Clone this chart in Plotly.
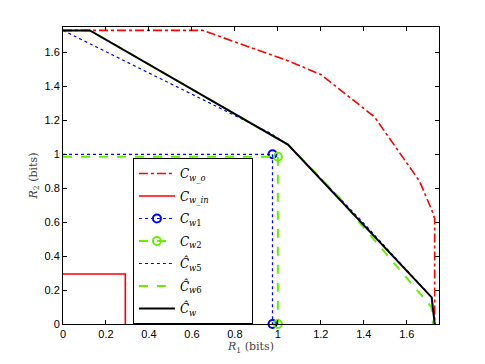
import plotly.graph_objects as go

# region boundaries, R1 / R2 in bits
CWO_R1 = [0.0, 0.65, 1.05, 1.2, 1.45, 1.56, 1.66, 1.72, 1.73, 1.73]
CWO_R2 = [1.73, 1.73, 1.55, 1.47, 1.22, 1.02, 0.84, 0.66, 0.62, 0.0]

CWIN_R1 = [0.0, 0.29, 0.29]
CWIN_R2 = [0.295, 0.295, 0.0]

CW1_R1 = [0.0, 0.975, 0.975]
CW1_R2 = [1.0, 1.0, 0.0]

CW2_R1 = [0.0, 1.0, 1.0]
CW2_R2 = [0.985, 0.985, 0.0]

CW5_R1 = [0.0, 0.963, 1.047, 1.38, 1.716, 1.73]
CW5_R2 = [1.73, 1.126, 1.057, 0.62, 0.157, 0.0]

CW6_R1 = [0.0, 0.125, 1.047, 1.094, 1.288, 1.381, 1.715, 1.722]
CW6_R2 = [1.73, 1.73, 1.057, 0.997, 0.744, 0.596, 0.10, 0.0]

CW_R1 = [0.0, 0.125, 1.047, 1.716, 1.73]
CW_R2 = [1.73, 1.73, 1.057, 0.157, 0.0]

RED = "#ff0000"
BLUE = "#0000ff"
GREEN = "#66f000"

PAD = "&nbsp;" * 10
LABELS = [
    "<i>C</i><sub><i>w</i>_<i>o</i></sub>" + PAD,
    "<i>C</i><sub><i>w</i>_<i>in</i></sub>" + PAD,
    "<i>C</i><sub><i>w</i>1</sub>" + PAD,
    "<i>C</i><sub><i>w</i>2</sub>" + PAD,
    "<i>Ĉ</i><sub><i>w</i>5</sub>" + PAD,
    "<i>Ĉ</i><sub><i>w</i>6</sub>" + PAD,
    "<i>Ĉ</i><sub><i>w</i></sub>" + PAD,
]

fig = go.Figure()


def line(x, y, name, color, dash, group, width=1.6, show=True, markers=False):
    fig.add_trace(go.Scatter(
        x=x, y=y, name=name, legendgroup=group, showlegend=show,
        mode="lines+markers" if markers else "lines",
        line=dict(color=color, dash=dash, width=width),
        marker=dict(symbol="circle-open", size=8, color=color,
                    line=dict(width=2, color=color)),
        hoverinfo="skip", cliponaxis=False,
    ))


line(CWO_R1, CWO_R2, LABELS[0], RED, "dashdot", "g0")
line(CWIN_R1, CWIN_R2, LABELS[1], RED, "solid", "g1")
# C_w1 / C_w2: horizontal part w/o markers, corner + foot with circles
line(CW1_R1[:2], CW1_R2[:2], LABELS[2], BLUE, "dot", "g2", width=1.2, show=False)
line(CW1_R1[1:], CW1_R2[1:], LABELS[2], BLUE, "dot", "g2", width=1.2, markers=True)
line(CW2_R1[:2], CW2_R2[:2], LABELS[3], GREEN, "dash", "g3", width=2, show=False)
line(CW2_R1[1:], CW2_R2[1:], LABELS[3], GREEN, "dash", "g3", width=2, markers=True)
line(CW5_R1, CW5_R2, LABELS[4], BLUE, "dot", "g4", width=1.2)
line(CW6_R1, CW6_R2, LABELS[5], GREEN, "dash", "g5", width=2)
line(CW_R1, CW_R2, LABELS[6], "black", "solid", "g6", width=2)

axis_common = dict(
    range=[0, 1.75], dtick=0.2, tick0=0, ticks="inside", ticklen=4,
    tickcolor="black", showgrid=False, zeroline=False, showline=True,
    linecolor="black", linewidth=1, mirror="ticks", automargin=False,
    tickfont=dict(family="Liberation Sans, Arial", size=11, color="black"),
)

# the page body adds an 8px offset, so margins are shifted by 8px
fig.update_layout(
    width=485, height=364,
    margin=dict(l=55, r=54, t=19, b=48),
    paper_bgcolor="white", plot_bgcolor="white",
    xaxis=dict(**axis_common,
               title=dict(text="<i>R</i><sub>1</sub> (bits)", standoff=3,
                          font=dict(family="DejaVu Serif", size=11, color="#444"))),
    yaxis=dict(**axis_common,
               title=dict(text="<i>R</i><sub>2</sub> (bits)", standoff=4,
                          font=dict(family="DejaVu Serif", size=11, color="#444"))),
    legend=dict(x=0.186, y=0, xanchor="left", yanchor="bottom",
                bgcolor="white", bordercolor="black", borderwidth=1,
                traceorder="grouped", tracegroupgap=3.5, itemwidth=36,
                font=dict(family="DejaVu Serif", size=12, color="black")),
    showlegend=True,
)

fig.write_html("out.html")
